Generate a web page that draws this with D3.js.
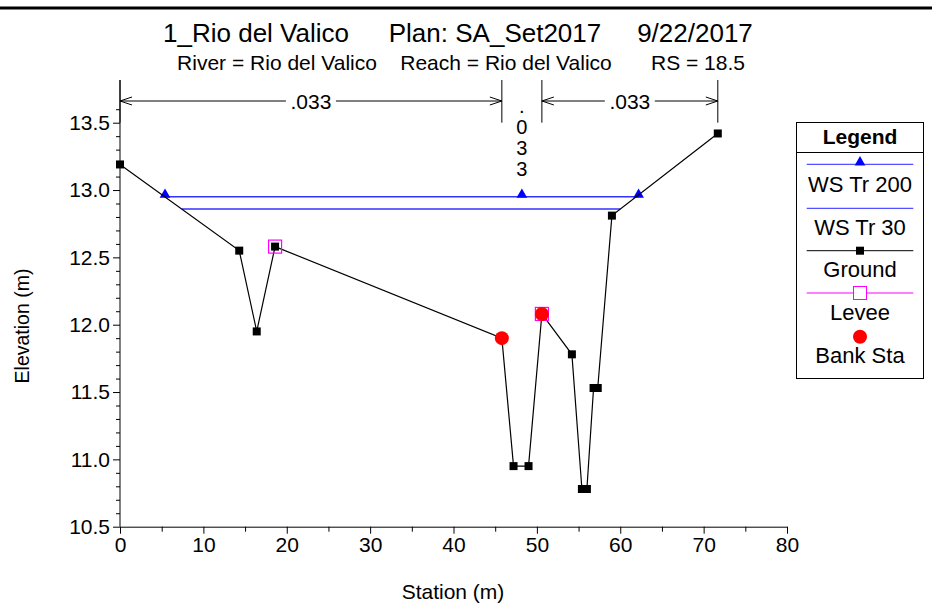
<!DOCTYPE html>
<html>
<head>
<meta charset="utf-8">
<script src="https://cdn.jsdelivr.net/npm/d3@7"></script>
<style>
  body { margin: 0; background: #fff; }
  svg text { font-family: "Liberation Sans", Arial, sans-serif; fill: #000; }
  .axis path, .axis line { stroke: #000; }
</style>
</head>
<body>
<div id="viz"></div>
<script>
// Ground profile (station m, elevation m)
const groundSta  = [0, 14.3, 16.4, 18.6, 45.8, 47.2, 49.0, 50.6, 54.2, 55.4, 56.0, 56.8, 57.3, 59.0, 71.7];
const groundElev = [13.19, 12.55, 11.95, 12.58, 11.90, 10.95, 10.95, 12.08, 11.78, 10.78, 10.78, 11.53, 11.53, 12.81, 13.42];

// Water surfaces
const ws200Sta  = [5.4, 48.2, 62.2];
const ws200Elev = 12.95;
const ws30Sta   = [7.4, 60.0];
const ws30Elev  = 12.86;

// Levees and bank stations
const leveeSta  = [18.6, 50.6];
const leveeElev = [12.58, 12.08];
const bankSta   = [45.8, 50.6];
const bankElev  = [11.90, 12.08];

// Manning's n breaks
const nBreaks = [0, 45.8, 50.6, 71.7];
const nValues = [".033", ".033", ".033"];

const xTicks = [0, 10, 20, 30, 40, 50, 60, 70, 80];
const yTicks = [10.5, 11.0, 11.5, 12.0, 12.5, 13.0, 13.5];

const legendItems = ["WS Tr 200", "WS Tr 30", "Ground", "Levee", "Bank Sta"];

const W = 932, H = 605;
const svg = d3.select("#viz").append("svg")
    .attr("width", W)
    .attr("height", H);

const x = d3.scaleLinear().domain([0, 80]).range([120, 787]);
const y = d3.scaleLinear().domain([10.5, 13.5]).range([526.7, 122.7]);

// top border
svg.append("line")
    .attr("x1", 0).attr("x2", W).attr("y1", 8).attr("y2", 8)
    .attr("stroke", "#000").attr("stroke-width", 3);

// titles
const t1 = [["1_Rio del Valico", 256], ["Plan: SA_Set2017", 495], ["9/22/2017", 695]];
t1.forEach(function(d) {
    svg.append("text").attr("x", d[1]).attr("y", 42)
        .attr("text-anchor", "middle").style("font-size", "26px").text(d[0]);
});
const t2 = [["River = Rio del Valico", 277], ["Reach = Rio del Valico", 506], ["RS = 18.5", 698]];
t2.forEach(function(d) {
    svg.append("text").attr("x", d[1]).attr("y", 70)
        .attr("text-anchor", "middle").style("font-size", "21px").text(d[0]);
});

// X axis
svg.append("g").attr("class", "axis")
    .attr("transform", `translate(0,${y(10.5)})`)
    .call(d3.axisBottom(x).tickValues(xTicks).tickSize(7).tickSizeOuter(0).tickFormat(d3.format("d")));
svg.append("g").attr("class", "axis")
    .attr("transform", `translate(0,${y(10.5)})`)
    .call(d3.axisBottom(x).tickValues(d3.range(5, 80, 10)).tickSize(5).tickFormat(""))
    .select(".domain").remove();

// Y axis
const yAxis = svg.append("g").attr("class", "axis")
    .attr("transform", `translate(${x(0)},0)`)
    .call(d3.axisLeft(y).tickValues(yTicks).tickSize(7).tickSizeOuter(0).tickFormat(d3.format(".1f")));
yAxis.select(".domain").remove();
svg.append("line")
    .attr("x1", x(0)).attr("x2", x(0)).attr("y1", 80).attr("y2", y(10.5))
    .attr("stroke", "#000");
const yMinor = d3.range(106, 137).map(d => d / 10).filter(d => Math.round(d * 10) % 5 !== 0);
svg.append("g").attr("class", "axis")
    .attr("transform", `translate(${x(0)},0)`)
    .call(d3.axisLeft(y).tickValues(yMinor).tickSize(4).tickFormat(""))
    .select(".domain").remove();
svg.selectAll(".axis .tick text")
    .style("font-size", "21px")
    .attr("font-family", null);

// axis titles
svg.append("text")
    .attr("transform", "translate(29,326) rotate(-90)")
    .attr("text-anchor", "middle").style("font-size", "19.5px")
    .text("Elevation (m)");
svg.append("text")
    .attr("x", 453).attr("y", 599)
    .attr("text-anchor", "middle").style("font-size", "21px")
    .text("Station (m)");

// Manning's n dimension lines
const nY = 101;
nBreaks.forEach(function(s) {
    svg.append("line")
        .attr("x1", x(s)).attr("x2", x(s)).attr("y1", 80).attr("y2", 122.7)
        .attr("stroke", "#000");
});
function arrowHead(px, dir) {
    // open arrowhead, dir = +1 pointing right, -1 pointing left
    svg.append("path")
        .attr("d", `M${px - dir * 12},${nY - 4}L${px},${nY}L${px - dir * 12},${nY + 4}`)
        .attr("fill", "none").attr("stroke", "#000");
}
[0, 2].forEach(function(i) {
    const x1 = x(nBreaks[i]), x2 = x(nBreaks[i + 1]);
    const xm = (x1 + x2) / 2;
    const half = 25;
    svg.append("line").attr("x1", x1).attr("x2", xm - half).attr("y1", nY).attr("y2", nY).attr("stroke", "#000");
    svg.append("line").attr("x1", xm + half).attr("x2", x2).attr("y1", nY).attr("y2", nY).attr("stroke", "#000");
    arrowHead(x1, -1);
    arrowHead(x2, 1);
    svg.append("text").attr("x", xm).attr("y", nY + 8)
        .attr("text-anchor", "middle").style("font-size", "21px").text(nValues[i]);
});
// vertical label for the channel n
const midX = (x(nBreaks[1]) + x(nBreaks[2])) / 2;
nValues[1].split("").forEach(function(c, i) {
    svg.append("text").attr("x", midX).attr("y", 113 + i * 21)
        .attr("text-anchor", "middle").style("font-size", "20px").text(c);
});

// Water surfaces
const blue = "#0000ff";
svg.append("line")
    .attr("x1", x(ws200Sta[0])).attr("x2", x(ws200Sta[ws200Sta.length - 1]))
    .attr("y1", y(ws200Elev)).attr("y2", y(ws200Elev))
    .attr("stroke", blue).attr("stroke-width", 1.5).attr("opacity", 0.8);
svg.append("line")
    .attr("x1", x(ws30Sta[0])).attr("x2", x(ws30Sta[1]))
    .attr("y1", y(ws30Elev)).attr("y2", y(ws30Elev))
    .attr("stroke", blue).attr("stroke-width", 1.5).attr("opacity", 0.8);
const tri = d3.symbol().type(d3.symbolTriangle).size(50);
svg.selectAll(".ws200pt").data(ws200Sta).join("path")
    .attr("d", tri)
    .attr("transform", d => `translate(${x(d)},${y(ws200Elev) - 2})`)
    .attr("fill", blue);

// Ground
const ground = groundSta.map((s, i) => [s, groundElev[i]]);
svg.append("path").datum(ground)
    .attr("d", d3.line().x(d => x(d[0])).y(d => y(d[1])))
    .attr("fill", "none").attr("stroke", "#000").attr("stroke-width", 1.2);
svg.selectAll(".gpt").data(ground).join("rect")
    .attr("x", d => x(d[0]) - 4).attr("y", d => y(d[1]) - 4)
    .attr("width", 8).attr("height", 8).attr("fill", "#000");

// Levees
svg.selectAll(".lev").data(leveeSta).join("rect")
    .attr("x", d => x(d) - 6.5).attr("y", (d, i) => y(leveeElev[i]) - 6.5)
    .attr("width", 13).attr("height", 13)
    .attr("fill", "none").attr("stroke", "#ff00ff").attr("stroke-width", 1.2);

// Bank stations
svg.selectAll(".bank").data(bankSta).join("circle")
    .attr("cx", d => x(d)).attr("cy", (d, i) => y(bankElev[i]))
    .attr("r", 7).attr("fill", "#ff0000");

// Legend
const lg = svg.append("g");
lg.append("rect").attr("x", 796.5).attr("y", 122.5).attr("width", 127).attr("height", 256)
    .attr("fill", "#fff").attr("stroke", "#000");
lg.append("line").attr("x1", 796.5).attr("x2", 923.5).attr("y1", 152.5).attr("y2", 152.5).attr("stroke", "#000");
lg.append("text").attr("x", 860).attr("y", 144).attr("text-anchor", "middle")
    .style("font-size", "21px").style("font-weight", "bold").text("Legend");
const lineY = [164.3, 208.3, 250.7, 293, 336.7];
const textY = [192, 234.5, 277, 319.5, 363];
const lx1 = 806.7, lx2 = 913.3, lxm = 860;
legendItems.forEach(function(name, i) {
    const ly = lineY[i];
    if (i === 0 || i === 1) {
        lg.append("line").attr("x1", lx1).attr("x2", lx2).attr("y1", ly).attr("y2", ly)
            .attr("stroke", blue).attr("opacity", 0.85);
        if (i === 0) lg.append("path").attr("d", tri).attr("transform", `translate(${lxm},${ly - 2})`).attr("fill", blue);
    } else if (i === 2) {
        lg.append("line").attr("x1", lx1).attr("x2", lx2).attr("y1", ly).attr("y2", ly).attr("stroke", "#000");
        lg.append("rect").attr("x", lxm - 4).attr("y", ly - 4).attr("width", 8).attr("height", 8).attr("fill", "#000");
    } else if (i === 3) {
        lg.append("line").attr("x1", lx1).attr("x2", lx2).attr("y1", ly).attr("y2", ly).attr("stroke", "#ff00ff");
        lg.append("rect").attr("x", lxm - 6.5).attr("y", ly - 6.5).attr("width", 13).attr("height", 13)
            .attr("fill", "#fff").attr("stroke", "#ff00ff");
    } else {
        lg.append("circle").attr("cx", lxm).attr("cy", ly).attr("r", 7).attr("fill", "#ff0000");
    }
    lg.append("text").attr("x", lxm).attr("y", textY[i]).attr("text-anchor", "middle")
        .style("font-size", "22px").text(name);
});
</script>
</body>
</html>
